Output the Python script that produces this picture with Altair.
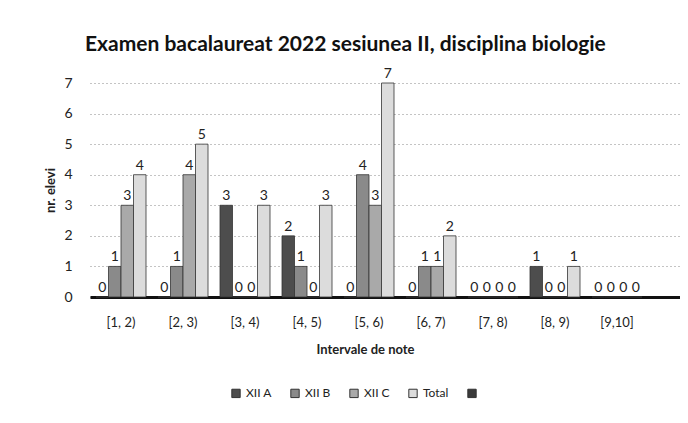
import altair as alt
import pandas as pd

categories = ["[1, 2)", "[2, 3)", "[3, 4)", "[4, 5)", "[5, 6)", "[6, 7)", "[7, 8)", "[8, 9)", "[9,10]"]
series_names = ["XII A", "XII B", "XII C", "Total"]
legend_names = ["XII A", "XII B", "XII C", "Total", " "]
xii_a = [0, 0, 3, 2, 0, 0, 0, 1, 0]
xii_b = [1, 1, 0, 1, 4, 1, 0, 0, 0]
xii_c = [3, 4, 0, 0, 3, 1, 0, 0, 0]
total = [4, 5, 3, 3, 7, 2, 0, 1, 0]
y_ticks = [0, 1, 2, 3, 4, 5, 6, 7]
colors = ["#4d4d4d", "#8a8a8a", "#a9a9a9", "#dcdcdc", "#3a3a3a"]

rows = []
for name, vals in zip(series_names, [xii_a, xii_b, xii_c, total]):
    for c, v in zip(categories, vals):
        rows.append({"cat": c, "series": name, "value": v})
df = pd.DataFrame(rows)

FONT = "Lato"

x = alt.X("cat:N", sort=categories,
          scale=alt.Scale(paddingInner=0, paddingOuter=0.258, align=0),
          axis=alt.Axis(title="Intervale de note", labelAngle=0, labelFontSize=13,
                        labelFont=FONT, labelColor="#222", labelPadding=19,
                        titleFont=FONT, titleFontSize=13, titleFontWeight="bold",
                        titleColor="#222", titlePadding=14, titleX=275,
                        domainColor="#111", domainWidth=3, ticks=False))
xo = alt.XOffset("series:N", sort=series_names,
                 scale=alt.Scale(domain=series_names, paddingInner=0, paddingOuter=0.48))
y = alt.Y("value:Q", scale=alt.Scale(domain=[0, 7], nice=False),
          axis=alt.Axis(title="nr. elevi", values=y_ticks, format="d", labelOverlap=False,
                        labelFontSize=14, labelFont=FONT, labelColor="#222",
                        labelPadding=18, titleFont=FONT, titleFontSize=13,
                        titleFontWeight="bold", titleColor="#222", titlePadding=6,
                        domain=False, ticks=False, grid=True, gridDash=[1, 3],
                        gridColor="#888", gridWidth=1))

color = alt.Color("series:N",
                  scale=alt.Scale(domain=legend_names, range=colors),
                  legend=alt.Legend(title=None, orient="none", direction="horizontal",
                                    columns=5, legendX=140, legendY=304,
                                    labelFont=FONT, labelFontSize=12, labelColor="#222",
                                    symbolType="square", symbolSize=70,
                                    symbolStrokeColor="#333", symbolStrokeWidth=1,
                                    columnPadding=16, gridAlign="all"))

bars = alt.Chart(df).mark_bar(stroke="#333", strokeWidth=0.8).encode(
    x=x, xOffset=xo, y=y, color=color)

labels = alt.Chart(df).mark_text(dy=-9, fontSize=14, font=FONT, color="#222").encode(
    x=x, xOffset=xo, y=y, text="value:Q")

chart = alt.layer(bars, labels).properties(
    width=590, height=214,
    padding={"left": 82, "top": 75, "right": 0, "bottom": 118},
    autosize=alt.AutoSizeParams(type="none"),
    title=alt.Title("Examen bacalaureat 2022 sesiunea II, disciplina  biologie",
                    font=FONT, fontSize=21, fontWeight="bold", color="#111",
                    anchor="start", frame="group", offset=12, dx=-5),
    background="white",
).configure_view(stroke=None)

chart.save("out.html", embed_options={"renderer": "svg", "actions": False})
